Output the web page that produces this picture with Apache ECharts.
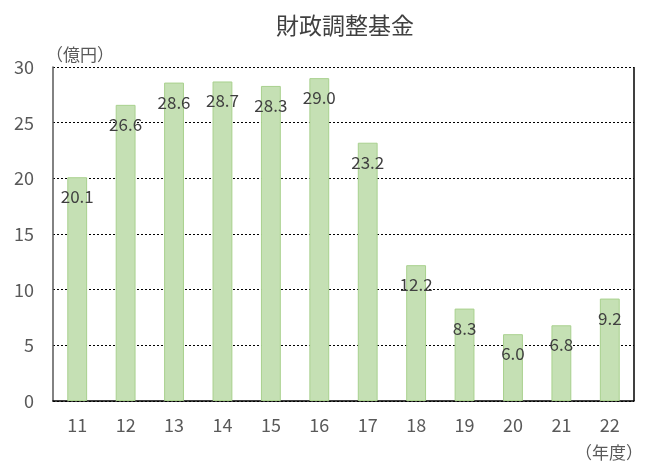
<!DOCTYPE html>
<html>
<head>
<meta charset="utf-8">
<script src="https://cdn.jsdelivr.net/npm/echarts@6/dist/echarts.min.js"></script>
<style>
  html, body { margin: 0; padding: 0; background: #fff; }
  #chart { width: 652px; height: 462px; }
</style>
</head>
<body>
<div id="chart"></div>
<script>
const years = ['11', '12', '13', '14', '15', '16', '17', '18', '19', '20', '21', '22'];
const fundValues = [20.1, 26.6, 28.6, 28.7, 28.3, 29.0, 23.2, 12.2, 8.3, 6.0, 6.8, 9.2];
const yTicks = [0, 5, 10, 15, 20, 25, 30];

const font = '"Noto Sans CJK JP", "Noto Sans", sans-serif';
const chart = echarts.init(document.getElementById('chart'));

chart.setOption({
  animation: false,
  title: {
    text: '財政調整基金',
    left: 271,
    top: 9,
    textStyle: { fontFamily: font, fontSize: 23, fontWeight: 'normal', color: '#404040' }
  },
  grid: { left: 53, right: 18, top: 67, bottom: 61 },
  xAxis: {
    type: 'category',
    data: years,
    name: '（年度）',
    nameLocation: 'end',
    nameGap: 0,
    nameTextStyle: {
      fontFamily: font, fontSize: 17, color: '#595959',
      align: 'right', verticalAlign: 'top', padding: [43, -9, 0, 0]
    },
    axisLine: { lineStyle: { color: '#000', width: 1.5 } },
    axisTick: { show: false },
    axisLabel: { fontFamily: font, fontSize: 18, color: '#595959', margin: 15 }
  },
  yAxis: {
    type: 'value',
    min: yTicks[0],
    max: yTicks[yTicks.length - 1],
    interval: 5,
    name: '（億円）',
    nameLocation: 'end',
    nameGap: 4,
    nameTextStyle: {
      fontFamily: font, fontSize: 17, color: '#595959', align: 'left', padding: [0, 0, 0, -7]
    },
    axisLine: { show: true, lineStyle: { color: '#595959', width: 1.5 } },
    axisTick: { show: false },
    axisLabel: { fontFamily: font, fontSize: 18, color: '#595959', margin: 19 },
    splitLine: { lineStyle: { color: '#000', type: [2, 2], width: 1 } }
  },
  graphic: [{
    type: 'line',
    shape: { x1: 634, y1: 67, x2: 634, y2: 401 },
    style: { stroke: '#000', lineWidth: 1.5 }
  }],
  series: [{
    type: 'bar',
    data: fundValues,
    barWidth: '41%',
    itemStyle: { color: '#c5e0b4', borderColor: '#a9d18e', borderWidth: 1 },
    label: {
      show: true,
      position: 'insideTop',
      distance: 11,
      formatter: p => p.value.toFixed(1),
      fontFamily: font,
      fontSize: 17,
      color: '#404040'
    }
  }]
});
</script>
</body>
</html>
